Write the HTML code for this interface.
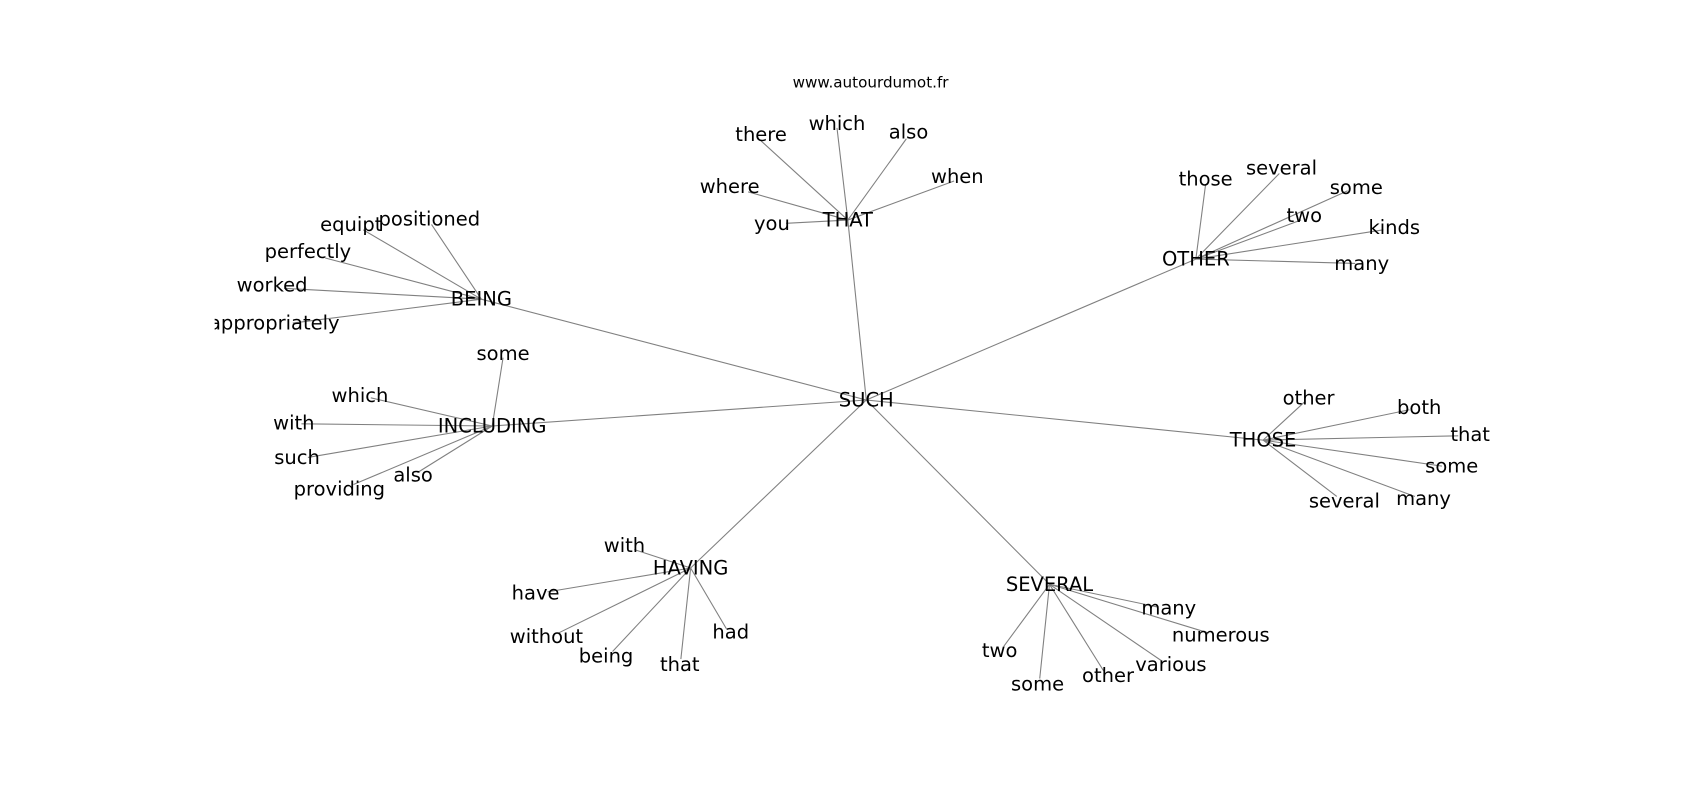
<!DOCTYPE html>
<html><head><meta charset="utf-8"><style>
html,body{margin:0;padding:0;background:#fff;width:1700px;height:800px;overflow:hidden}
svg text{font-family:"DejaVu Sans","Liberation Sans",sans-serif;font-size:18px;fill:#000;text-anchor:middle;dominant-baseline:central}
</style></head><body>
<svg width="1700" height="800" viewBox="0 0 1568 738" preserveAspectRatio="none" xmlns="http://www.w3.org/2000/svg">
<defs><clipPath id="c"><rect x="198" y="0" width="1400" height="800"/></clipPath></defs>
<text x="803" y="76" style="font-size:14px">www.autourdumot.fr</text>
<g clip-path="url(#c)">
<g stroke="#808080" stroke-width="1" fill="none">
<line x1="799" y1="369" x2="782" y2="203"/>
<line x1="799" y1="369" x2="444" y2="276"/>
<line x1="799" y1="369" x2="1103" y2="239"/>
<line x1="799" y1="369" x2="454" y2="393"/>
<line x1="799" y1="369" x2="1165" y2="406"/>
<line x1="799" y1="369" x2="637" y2="524"/>
<line x1="799" y1="369" x2="968" y2="539"/>
<line x1="782" y1="203" x2="702" y2="130"/>
<line x1="782" y1="203" x2="772" y2="118"/>
<line x1="782" y1="203" x2="836" y2="128"/>
<line x1="782" y1="203" x2="690" y2="177"/>
<line x1="782" y1="203" x2="880" y2="167"/>
<line x1="782" y1="203" x2="725" y2="206"/>
<line x1="444" y1="276" x2="335" y2="212"/>
<line x1="444" y1="276" x2="398" y2="207"/>
<line x1="444" y1="276" x2="300" y2="238"/>
<line x1="444" y1="276" x2="262" y2="266"/>
<line x1="444" y1="276" x2="270" y2="298"/>
<line x1="454" y1="393" x2="464" y2="330"/>
<line x1="454" y1="393" x2="342" y2="367"/>
<line x1="454" y1="393" x2="278" y2="391"/>
<line x1="454" y1="393" x2="284" y2="422"/>
<line x1="454" y1="393" x2="326" y2="447"/>
<line x1="454" y1="393" x2="385" y2="436"/>
<line x1="637" y1="524" x2="585" y2="507"/>
<line x1="637" y1="524" x2="505" y2="546"/>
<line x1="637" y1="524" x2="515" y2="584"/>
<line x1="637" y1="524" x2="565" y2="601"/>
<line x1="637" y1="524" x2="628" y2="608"/>
<line x1="637" y1="524" x2="670" y2="580"/>
<line x1="968" y1="539" x2="1068" y2="560"/>
<line x1="968" y1="539" x2="1115" y2="584"/>
<line x1="968" y1="539" x2="1072" y2="610"/>
<line x1="968" y1="539" x2="1018" y2="619"/>
<line x1="968" y1="539" x2="959" y2="626"/>
<line x1="968" y1="539" x2="926" y2="596"/>
<line x1="1165" y1="406" x2="1203" y2="371"/>
<line x1="1165" y1="406" x2="1300" y2="378"/>
<line x1="1165" y1="406" x2="1345" y2="402"/>
<line x1="1165" y1="406" x2="1330" y2="430"/>
<line x1="1165" y1="406" x2="1305" y2="458"/>
<line x1="1165" y1="406" x2="1233" y2="458"/>
<line x1="1103" y1="239" x2="1112" y2="170"/>
<line x1="1103" y1="239" x2="1180" y2="160"/>
<line x1="1103" y1="239" x2="1243" y2="176"/>
<line x1="1103" y1="239" x2="1200" y2="203"/>
<line x1="1103" y1="239" x2="1276" y2="212"/>
<line x1="1103" y1="239" x2="1250" y2="243"/>
</g>
<text x="799" y="369">SUCH</text>
<text x="782" y="203">THAT</text>
<text x="444" y="276">BEING</text>
<text x="1103" y="239">OTHER</text>
<text x="454" y="393">INCLUDING</text>
<text x="1165" y="406">THOSE</text>
<text x="637" y="524">HAVING</text>
<text x="968" y="539">SEVERAL</text>

<text x="702" y="124">there</text>
<text x="772" y="114">which</text>
<text x="838" y="122">also</text>
<text x="673" y="172">where</text>
<text x="883" y="163">when</text>
<text x="712" y="206">you</text>

<text x="324" y="207">equipt</text>
<text x="396" y="202">positioned</text>
<text x="284" y="232">perfectly</text>
<text x="251" y="263">worked</text>
<text x="253" y="298">appropriately</text>

<text x="464" y="326">some</text>
<text x="332" y="365">which</text>
<text x="271" y="390">with</text>
<text x="274" y="422">such</text>
<text x="313" y="451">providing</text>
<text x="381" y="438">also</text>

<text x="576" y="503">with</text>
<text x="494" y="547">have</text>
<text x="504" y="587">without</text>
<text x="559" y="605">being</text>
<text x="627" y="613">that</text>
<text x="674" y="583">had</text>

<text x="1078" y="561">many</text>
<text x="1126" y="586">numerous</text>
<text x="1080" y="613">various</text>
<text x="1022" y="623">other</text>
<text x="957" y="631">some</text>
<text x="922" y="600">two</text>

<text x="1207" y="367">other</text>
<text x="1309" y="376">both</text>
<text x="1356" y="401">that</text>
<text x="1339" y="430">some</text>
<text x="1313" y="460">many</text>
<text x="1240" y="462">several</text>

<text x="1112" y="165">those</text>
<text x="1182" y="155">several</text>
<text x="1251" y="173">some</text>
<text x="1203" y="199">two</text>
<text x="1286" y="210">kinds</text>
<text x="1256" y="243">many</text>
</g>
</svg>
</body></html>
